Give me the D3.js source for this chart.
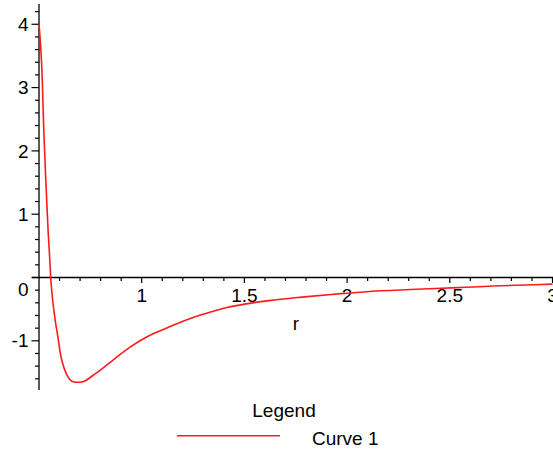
<!DOCTYPE html>
<html>
<head>
<meta charset="utf-8">
<script src="https://cdn.jsdelivr.net/npm/d3@7/dist/d3.min.js"></script>
<style>
  html, body { margin: 0; padding: 0; background: #fff; }
  svg { display: block; }
  text { font-family: "Liberation Sans", Arial, sans-serif; fill: #000; }
</style>
</head>
<body>
<svg id="chart" width="553" height="450"></svg>
<script>
// Potential curve V(r), sampled points
const rValues = [0.500, 0.516, 0.523, 0.531, 0.538, 0.545, 0.552, 0.557, 0.568, 0.580,
                 0.592, 0.605, 0.624, 0.641, 0.660, 0.680, 0.700, 0.720, 0.765, 0.800,
                 0.862, 0.943, 1.024, 1.105, 1.186, 1.260, 1.340, 1.420, 1.500, 1.620,
                 1.780, 1.950, 2.110, 2.310, 2.460, 2.580, 2.710, 2.870, 3.000];
const vValues = [4.00, 3.12, 2.36, 1.70, 1.18, 0.70, 0.31, 0.00, -0.40, -0.70,
                 -0.94, -1.22, -1.45, -1.57, -1.64, -1.655, -1.655, -1.64, -1.54, -1.46,
                 -1.30, -1.10, -0.94, -0.82, -0.71, -0.62, -0.54, -0.47, -0.42, -0.365,
                 -0.31, -0.26, -0.22, -0.19, -0.17, -0.155, -0.135, -0.118, -0.105];

const xTickLabels = ["1", "1.5", "2", "2.5", "3"];
const yTickLabels = ["-1", "0", "1", "2", "3", "4"];
const xAxisTitle = "r";
const legendTitle = "Legend";
const seriesNames = ["Curve 1"];

const svg = d3.select("#chart");

const x = d3.scaleLinear().domain([0.5, 3]).range([39, 552.5]);
const y = d3.scaleLinear().domain([-1.777, 4.32]).range([390, 4]);

const fontSize = 19;

// minor tick positions
const xMinor = d3.range(6, 31).map(d => d / 10);
const yMinor = d3.range(-8, 22).map(d => d / 5);

// x axis (crosses at V = 0)
const xAxisG = svg.append("g").attr("transform", `translate(0,${y(0)})`);
xAxisG.append("line")
  .attr("x1", x(0.466)).attr("x2", 553).attr("y1", 0).attr("y2", 0)
  .attr("stroke", "#000").attr("stroke-width", 1.3);
xAxisG.selectAll("line.tick").data(xMinor).join("line")
  .attr("class", "tick")
  .attr("x1", d => x(d)).attr("x2", d => x(d))
  .attr("y1", 0)
  .attr("y2", d => (Math.abs(d * 2 - Math.round(d * 2)) < 1e-6) ? 5.5 : 3.5)
  .attr("stroke", "#000").attr("stroke-width", 1.2);
xAxisG.selectAll("text").data(xTickLabels).join("text")
  .attr("x", d => x(+d))
  .attr("y", 24.5)
  .attr("text-anchor", "middle")
  .attr("font-size", fontSize)
  .text(d => d);

// y axis at r = 0.5
const yAxisG = svg.append("g").attr("transform", `translate(${x(0.5)},0)`);
yAxisG.append("line")
  .attr("x1", 0).attr("x2", 0).attr("y1", y(4.32)).attr("y2", y(-1.777))
  .attr("stroke", "#000").attr("stroke-width", 1.3);
yAxisG.selectAll("line.tick").data(yMinor).join("line")
  .attr("class", "tick")
  .attr("y1", d => y(d)).attr("y2", d => y(d))
  .attr("x1", 0)
  .attr("x2", d => (Math.abs(d - Math.round(d)) < 1e-6) ? -7.5 : -4)
  .attr("stroke", "#000").attr("stroke-width", 1.2);
yAxisG.selectAll("text").data(yTickLabels).join("text")
  .attr("x", -10.5)
  .attr("y", d => y(+d) + (+d === 0 ? 11.5 : 0))
  .attr("dy", "0.35em")
  .attr("text-anchor", "end")
  .attr("font-size", fontSize)
  .text(d => d);

// axis title
svg.append("text")
  .attr("x", 296).attr("y", 330)
  .attr("text-anchor", "middle")
  .attr("font-size", fontSize)
  .text(xAxisTitle);

// curve
const pts = rValues.map((r, i) => [r, vValues[i]]);
const line = d3.line().x(d => x(d[0])).y(d => y(d[1])).curve(d3.curveMonotoneX);
svg.append("path")
  .datum(pts)
  .attr("d", line)
  .attr("fill", "none")
  .attr("stroke", "#ff1a1a")
  .attr("stroke-width", 1.6)
  .attr("stroke-linejoin", "round");

// legend
svg.append("text")
  .attr("x", 284).attr("y", 416.5)
  .attr("text-anchor", "middle")
  .attr("font-size", fontSize)
  .text(legendTitle);
const legendRow = svg.append("g");
legendRow.append("line")
  .attr("x1", 177).attr("x2", 280).attr("y1", 435.7).attr("y2", 435.7)
  .attr("stroke", "#ff1a1a").attr("stroke-width", 1.6);
legendRow.append("text")
  .attr("x", 312).attr("y", 445)
  .attr("font-size", fontSize)
  .text(seriesNames[0]);
</script>
</body>
</html>
